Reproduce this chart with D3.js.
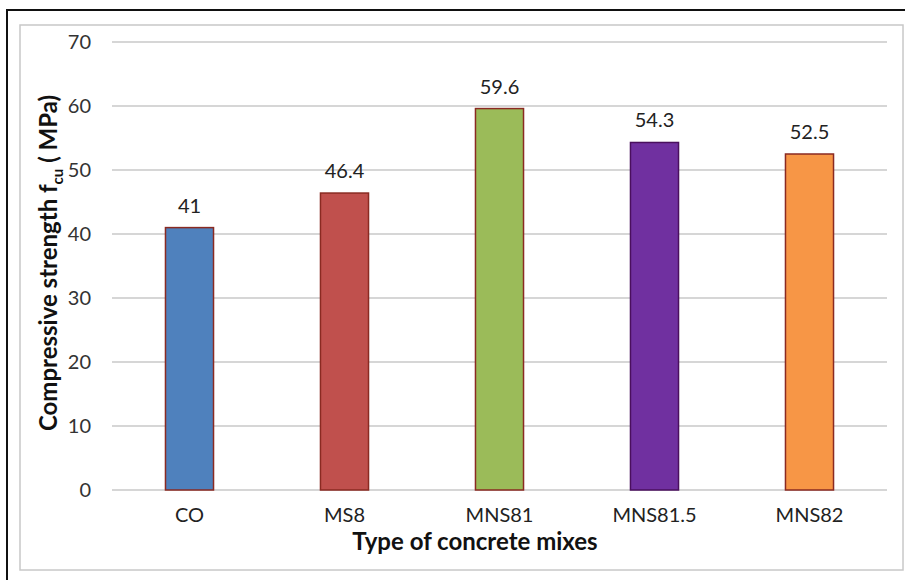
<!DOCTYPE html>
<html>
<head>
<meta charset="utf-8">
<script src="https://cdn.jsdelivr.net/npm/d3@7"></script>
<style>
  body { margin: 0; background: #fff; }
  text { font-family: Lato, "Open Sans", sans-serif; }
</style>
</head>
<body>
<div class="chart"></div>
<script>
// data
const mixes = ['CO', 'MS8', 'MNS81', 'MNS81.5', 'MNS82'];
const strength = [41, 46.4, 59.6, 54.3, 52.5];
const labels = ['41', '46.4', '59.6', '54.3', '52.5'];
const barColors = ['#4F81BD', '#C0504D', '#9BBB59', '#7030A0', '#F79646'];
const yTicks = [0, 10, 20, 30, 40, 50, 60, 70];

const width = 905;
const height = 580;
const svg = d3.select('.chart')
    .append('svg')
    .attr('width', width)
    .attr('height', height);

// frames
svg.append('path')
    .attr('d', 'M7,580 V10 H905')
    .attr('fill', 'none')
    .attr('stroke', '#111')
    .attr('stroke-width', 2);
svg.append('rect')
    .attr('x', 20).attr('y', 25)
    .attr('width', 883).attr('height', 545)
    .attr('fill', 'none')
    .attr('stroke', '#c8c8c8')
    .attr('stroke-width', 1.5);

const plotLeft = 112, plotRight = 887, plotTop = 42, plotBottom = 490;

var x = d3.scaleBand().domain(mixes).range([plotLeft, plotRight]).paddingInner(0.69).paddingOuter(0.345);
var y = d3.scaleLinear().domain([0, 70]).range([plotBottom, plotTop]);

// gridlines
svg.selectAll('.grid')
    .data(yTicks)
    .enter()
    .append('line')
    .attr('class', 'grid')
    .attr('x1', plotLeft).attr('x2', plotRight)
    .attr('y1', d => y(d)).attr('y2', d => y(d))
    .attr('stroke', '#c8c8c8')
    .attr('stroke-width', 1.3);

// y axis labels
const yAxis = svg.append('g')
    .attr('transform', `translate(${plotLeft - 11},0)`)
    .call(d3.axisLeft(y).tickValues(yTicks).tickSize(0).tickPadding(10));
yAxis.select('.domain').remove();
yAxis.selectAll('text')
    .attr('font-size', 20)
    .attr('fill', '#333')
    .style('font-family', 'Lato, sans-serif');

// bars
svg.selectAll('.bar')
    .data(mixes)
    .enter()
    .append('rect')
    .attr('class', 'bar')
    .attr('x', d => x(d))
    .attr('y', (d, i) => y(strength[i]))
    .attr('width', x.bandwidth())
    .attr('height', (d, i) => y(0) - y(strength[i]))
    .attr('fill', (d, i) => barColors[i])
    .attr('stroke', (d, i) => i == 3 ? '#4a0f5e' : '#8a2a22')
    .attr('stroke-width', 1.5);

// value labels
svg.selectAll('.val')
    .data(mixes)
    .enter()
    .append('text')
    .attr('class', 'val')
    .attr('text-anchor', 'middle')
    .attr('x', d => x(d) + x.bandwidth() / 2)
    .attr('y', (d, i) => y(strength[i]) - 15)
    .attr('font-size', 20)
    .attr('fill', '#222')
    .text((d, i) => labels[i]);

// x axis labels
const xAxis = svg.append('g')
    .attr('transform', `translate(0,${plotBottom})`)
    .call(d3.axisBottom(x).tickSize(0).tickPadding(18));
xAxis.select('.domain').remove();
xAxis.selectAll('text')
    .attr('font-size', 20)
    .attr('fill', '#222')
    .style('font-family', 'Lato, sans-serif');

// axis titles
svg.append('text')
    .attr('x', 475).attr('y', 550)
    .attr('text-anchor', 'middle')
    .attr('font-size', 24)
    .attr('font-weight', 'bold')
    .attr('fill', '#111')
    .text('Type of concrete mixes');

const yTitle = svg.append('text')
    .attr('transform', 'translate(57,263) rotate(-90)')
    .attr('text-anchor', 'middle')
    .attr('font-size', 24)
    .attr('font-weight', 'bold')
    .attr('fill', '#111');
yTitle.append('tspan').text('Compressive strength f');
yTitle.append('tspan').attr('dy', 6).attr('font-size', 15).text('cu');
yTitle.append('tspan').attr('dy', -6).text(' ( MPa)');
</script>
</body>
</html>
